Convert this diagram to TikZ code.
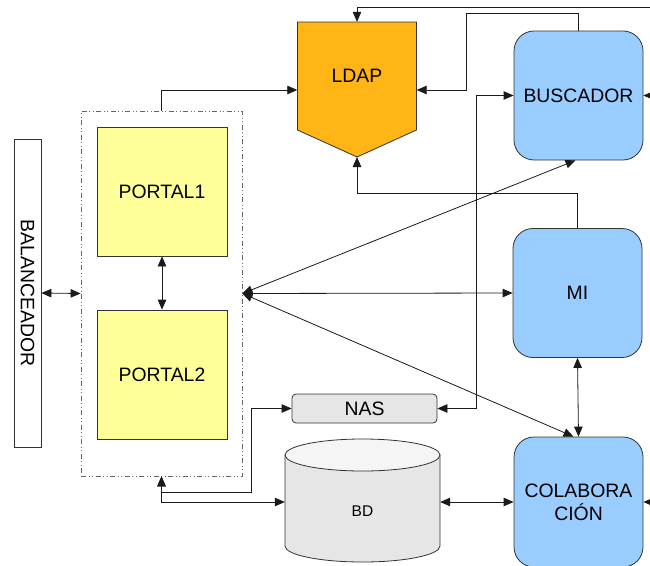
\documentclass[tikz,border=0pt]{standalone}
\usepackage{fontspec}
\setmainfont{Liberation Sans}
\usepackage{graphicx}
\usetikzlibrary{arrows.meta,calc}
\definecolor{ldapor}{HTML}{FFB515}
\definecolor{blueb}{HTML}{99CCFF}
\definecolor{yellowb}{HTML}{FFFF99}
\definecolor{grayb}{HTML}{E6E6E6}
\definecolor{edgec}{HTML}{333333}
\definecolor{linec}{HTML}{1A1A1A}
\tikzset{
  lbl/.style={font=\fontsize{19.4}{23}\selectfont},
  box/.style={draw=edgec, line width=0.8pt, inner sep=0pt, lbl},
  portalbox/.style={box, fill=yellowb, minimum width=130pt, minimum height=129pt},
  srvbox/.style={box, fill=blueb, rounded corners=20pt, minimum width=129pt, minimum height=129pt},
  arr/.style={draw=linec, line width=0.8pt, -{Triangle[length=10pt,width=8.5pt]}},
  arrs/.style={draw=linec, line width=0.8pt, {Triangle[length=10pt,width=8.5pt]}-{Triangle[length=10pt,width=8.5pt]}},
  contbox/.style={draw=gray!80!black, line width=0.8pt, dash pattern=on 5pt off 2.5pt on 1pt off 2.5pt on 1pt off 2.5pt, minimum width=161pt, minimum height=365pt, inner sep=0pt},
}
\begin{document}
\begin{tikzpicture}[x=1pt,y=-1pt]
\useasboundingbox (0,0) rectangle (650,565);
\clip (0,0) rectangle (650,565);

% container
\node[contbox] (cont) at (161.5,293.5) {};
% balanceador
\node[box, fill=white, minimum width=27pt, minimum height=308pt] (bal) at (27.5,293) {\rotatebox{-90}{BALANCEADOR}};
% portals
\node[portalbox] (p1) at (162,191.5) {PORTAL1};
\node[portalbox] (p2) at (162,374.5) {PORTAL2};

% LDAP pentagon
\filldraw[fill=ldapor, draw=edgec, line width=0.8pt] (297.5,22) -- (416.5,22) -- (416.5,130) -- (357,157) -- (297.5,130) -- cycle;
\node[lbl, minimum width=119pt, minimum height=108pt, inner sep=0pt] (ldap) at (357,76) {LDAP};
\coordinate (ldaptip) at (357,157);

% servers
\node[srvbox] (busc) at (578.5,95.5) {BUSCADOR};
\node[srvbox] (mi) at (577.5,293) {MI};
\node[srvbox, minimum height=130pt, align=center] (colab) at (578.5,502) {COLABORA\\CIÓN};

% NAS
\node[box, fill=grayb, rounded corners=4pt, minimum width=145pt, minimum height=29pt] (nas) at (364.5,408.5) {NAS};

% BD cylinder
\filldraw[fill=grayb, draw=edgec, line width=0.8pt] (285,455) -- (285,546) arc[start angle=180, end angle=0, x radius=77.5, y radius=16] -- (440,455) -- cycle;
\filldraw[fill=white!96!black, draw=edgec, line width=0.8pt] (362.5,455) ellipse[x radius=77.5, y radius=16];
\node[minimum width=155pt, minimum height=126pt, inner sep=0pt] (bd) at (362.5,502) {};
\node[font=\fontsize{15.5}{18}\selectfont] (bdl) at (362.5,511) {BD};

% free ends
\coordinate (topR) at (650,7);
\coordinate (rB) at (650,95.5);
\coordinate (rC) at (650,502);
\coordinate (hub) at (cont.east);

% connectors
\draw[arr] (topR) -| (ldap.north);
\draw[arr] (busc.north) -- ++(0,-17) -| (466,90) -- ([yshift=-14pt]ldap.east);
\draw[arr] (cont.north) |- ([yshift=-14pt]ldap.west);
\draw[arr] (mi.north) -- ++(0,-35) -| (ldaptip);
\draw[arrs] (nas.east) -- (476,408.5) |- (busc.west);
\draw[arr] (rB) -- (busc.east);
\draw[arr] (rC) -- (colab.east);
\draw[arrs] (hub) -- ([xshift=-3pt]busc.south);
\draw[arrs] (hub) -- (mi.west);
\draw[arrs] (hub) -- ([xshift=-5pt]colab.north);
\draw[arrs] (mi.south) -- (colab.north);
\draw[arrs] (cont.south) -- ++(0,16) -| ($(nas.west)+(-40,0)$) -- (nas.west);
\draw[arrs] (cont.south) |- (bd.west);
\draw[arrs] (bd.east) -- (colab.west);
\draw[arrs] (bal.east) -- (cont.west);
\draw[arrs] (p1.south) -- (p2.north);
\end{tikzpicture}
\end{document}
